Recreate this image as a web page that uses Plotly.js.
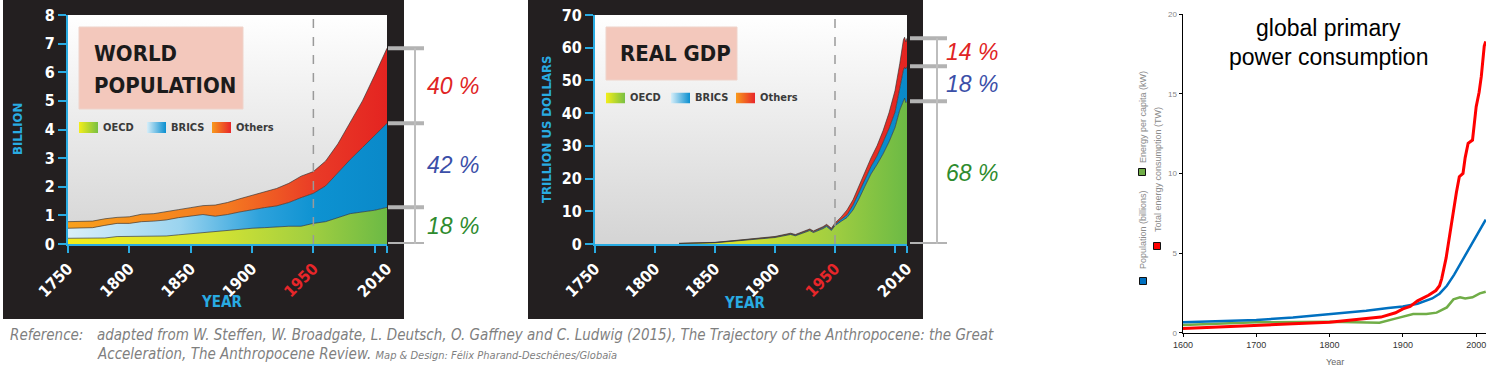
<!DOCTYPE html>
<html><head><meta charset="utf-8">
<script src="https://cdn.plot.ly/plotly-3.0.1.min.js"></script>
<style>html,body{margin:0;padding:0;background:#fff}#chart{width:1497px;height:371px}</style>
</head><body><div id="chart"></div>
<script>
// ---------- DATA ----------
// World population (billion), by region
const popYears  = [1750,1760,1770,1780,1790,1800,1810,1820,1830,1840,1850,1860,1870,1880,1890,1900,1910,1920,1930,1940,1950,1960,1970,1980,1990,2000,2010];
const popOECD   = [0.20,0.20,0.20,0.21,0.26,0.27,0.27,0.27,0.28,0.32,0.36,0.40,0.42,0.46,0.50,0.55,0.57,0.60,0.62,0.62,0.72,0.78,0.92,1.06,1.12,1.18,1.28];
const popBRICS  = [0.35,0.35,0.37,0.44,0.46,0.45,0.51,0.53,0.56,0.60,0.62,0.63,0.55,0.57,0.62,0.65,0.70,0.73,0.83,1.00,1.05,1.25,1.58,1.89,2.25,2.62,2.94];
const popOthers = [0.23,0.23,0.23,0.23,0.21,0.23,0.26,0.26,0.28,0.28,0.29,0.31,0.39,0.42,0.46,0.50,0.55,0.61,0.67,0.75,0.76,0.87,1.00,1.30,1.63,2.10,2.62];
const popShares = ['18 %','42 %','40 %'];   // OECD, BRICS, Others

// Real GDP (trillion US dollars), by region
const gdpYears  = [1820,1850,1870,1890,1900,1913,1917,1929,1932,1940,1943,1947,1950,1955,1960,1965,1970,1975,1980,1985,1990,1995,2000,2004,2007,2008,2009,2010];
const gdpOECD   = [0.14,0.38,1.00,1.62,1.98,2.90,2.50,4.10,3.50,4.70,5.35,4.15,5.60,6.90,8.10,10.40,13.80,17.70,21.40,24.30,27.50,31.20,35.60,41.00,44.00,44.60,43.20,43.60];
const gdpBRICS  = [0.04,0.08,0.12,0.16,0.18,0.22,0.22,0.28,0.28,0.34,0.35,0.35,0.40,0.60,0.80,1.50,2.00,2.20,2.30,2.60,3.50,4.10,4.70,7.10,9.20,9.40,10.30,10.70];
const gdpOthers = [0.02,0.04,0.08,0.12,0.14,0.18,0.18,0.22,0.22,0.26,0.30,0.30,0.40,0.70,1.50,1.60,2.10,2.40,2.60,3.10,3.60,4.80,6.60,7.10,9.20,9.20,8.30,8.60];
const gdpShares = ['68 %','18 %','14 %'];   // OECD, BRICS, Others

const regionNames = ['OECD','BRICS','Others'];
const histTickYears  = [1750,1800,1850,1900,1950,2000,2010];
const histTickLabels = ['1750','1800','1850','1900','1950','','2010'];

// Global primary power consumption panel
const popBnYears  = [1600,1650,1700,1750,1800,1850,1880,1900,1920,1940,1950,1960,1970,1980,1990,2000,2010,2013];
const popBn       = [0.65,0.72,0.80,0.95,1.15,1.38,1.55,1.65,1.82,2.15,2.45,2.95,3.65,4.45,5.25,6.10,6.85,7.10];
const energyYears = [1600,1650,1700,1750,1800,1840,1870,1890,1900,1910,1920,1935,1945,1950,1953,1959,1966,1973,1977,1982,1985,1989,1995,2000,2004,2007,2011,2013];
const energyTW    = [0.27,0.38,0.48,0.56,0.65,0.84,0.98,1.25,1.50,1.65,2.00,2.35,2.65,2.95,3.40,4.70,6.90,8.80,9.80,10.00,11.00,11.90,12.10,14.20,15.10,16.10,18.00,18.30];
const perCapYears = [1600,1700,1800,1868,1891,1914,1932,1946,1960,1969,1978,1985,1995,2005,2013];
const perCapKW    = [0.48,0.65,0.69,0.63,0.90,1.17,1.17,1.26,1.59,2.09,2.22,2.15,2.22,2.47,2.57];
const energyLegend = ['Population (billions)','Total energy consumption (TW)','Energy per capita (kW)'];

// ---------- STYLE ----------
const W = 1497, H = 371;
const px = v => v / W, py = v => 1 - v / H;
const NARROW = '"Liberation Sans Narrow", "Arial Narrow", "DejaVu Sans Condensed", sans-serif';
const ARIAL = '"Liberation Sans", Arial, sans-serif';
const BLUE = '#29abe2';
const OECD_SCALE   = [[0,'#f2ec1b'],[0.45,'#d6e432'],[0.75,'#a3cf40'],[1,'#6cba45']];
const BRICS_SCALE  = [[0,'#d9eff9'],[0.35,'#9bd4ef'],[0.6,'#2ea2dc'],[0.78,'#0d92d1'],[1,'#0a89c9']];
const OTHERS_SCALE = [[0,'#f8a01c'],[0.5,'#f47a20'],[0.78,'#e93a27'],[1,'#e42421']];
const SCALES = [OECD_SCALE, BRICS_SCALE, OTHERS_SCALE];
const SHARE_COLORS = ['#2e8b2e','#3b4fa8','#e02424'];

function svgURI(w, h, inner) {
  return 'data:image/svg+xml;charset=utf-8,' + encodeURIComponent(
    '<svg xmlns="http://www.w3.org/2000/svg" width="' + w + '" height="' + h + '" viewBox="0 0 ' + w + ' ' + h +
    '" preserveAspectRatio="none">' + inner + '</svg>');
}
function gradSVG(w, h, vertical, stops) {
  const g = '<defs><linearGradient id="g" x1="0" y1="0" x2="' + (vertical ? 0 : 1) + '" y2="' + (vertical ? 1 : 0) + '">' +
    stops.map(s => '<stop offset="' + s[0] + '" stop-color="' + s[1] + '"/>').join('') + '</linearGradient></defs>';
  return svgURI(w, h, g + '<rect width="' + w + '" height="' + h + '" fill="url(#g)"/>');
}
function img(src, x0, y0, x1, y1, layer) {
  return {source: src, xref: 'paper', yref: 'paper', x: px(x0), y: py(y0), sizex: (x1 - x0) / W, sizey: (y1 - y0) / H,
          xanchor: 'left', yanchor: 'top', sizing: 'stretch', layer: layer || 'below'};
}

// ---------- TRACES ----------
const traces = [];
function stacked(years, series, xa, ya, grp) {
  series.forEach((vals, i) => traces.push({
    x: years, y: vals, type: 'scatter', mode: 'lines', stackgroup: grp, name: regionNames[i],
    line: {color: 'rgba(45,45,45,0.8)', width: 0.8},
    fillgradient: {type: 'horizontal', colorscale: SCALES[i], start: 1750, stop: 2010},
    xaxis: xa, yaxis: ya, showlegend: false, hoverinfo: 'skip'
  }));
}
stacked(popYears, [popOECD, popBRICS, popOthers], 'x', 'y', 'pop');
stacked(gdpYears, [gdpOECD, gdpBRICS, gdpOthers], 'x2', 'y2', 'gdp');

traces.push({x: perCapYears, y: perCapKW, type: 'scatter', mode: 'lines', line: {color: '#70ad47', width: 2.5}, xaxis: 'x3', yaxis: 'y3', showlegend: false, hoverinfo: 'skip'});
traces.push({x: popBnYears, y: popBn, type: 'scatter', mode: 'lines', line: {color: '#0070c0', width: 2.5}, xaxis: 'x3', yaxis: 'y3', showlegend: false, hoverinfo: 'skip'});
traces.push({x: energyYears, y: energyTW, type: 'scatter', mode: 'lines', line: {color: '#ff0000', width: 3}, xaxis: 'x3', yaxis: 'y3', showlegend: false, hoverinfo: 'skip'});

// ---------- AXES ----------
const tickText = histTickLabels.map(t => t === '1950' ? '<span style="color:#e8262a">' + t + '</span>' : t);
function histX(x0, x1, anchor) {
  return {domain: [px(x0), px(x1)], range: [1750, 2010], anchor: anchor, showline: true, linecolor: BLUE, linewidth: 2,
    ticks: 'outside', tickcolor: BLUE, tickwidth: 2, ticklen: 7, tickmode: 'array', tickvals: histTickYears, ticktext: tickText,
    tickangle: -45, tickfont: {family: NARROW, size: 16, color: '#ffffff', weight: 700},
    showgrid: false, zeroline: false, fixedrange: true};
}
function histY(max, dt, anchor) {
  return {domain: [py(244), py(15)], range: [0, max], dtick: dt, tick0: 0, anchor: anchor, showline: true, linecolor: BLUE, linewidth: 2,
    ticks: 'outside', tickcolor: BLUE, tickwidth: 2, ticklen: 8, tickfont: {family: NARROW, size: 16, color: '#ffffff', weight: 700},
    showgrid: false, zeroline: false, fixedrange: true};
}

// ---------- SHAPES / ANNOTATIONS ----------
const shapes = [], annotations = [];
const last = a => a[a.length - 1];

function decorate(xa, ya, series, shares, hx0, hx1, vx, lblX) {
  shapes.push({type: 'line', xref: xa, yref: ya + ' domain', x0: 1950, x1: 1950, y0: 0, y1: 1,
               line: {color: '#9a9a9a', width: 1.5, dash: 'dash'}, layer: 'above'});
  const levels = [0];
  series.forEach(s => levels.push(levels[levels.length - 1] + last(s)));
  levels.forEach(v => shapes.push({type: 'line', xref: 'paper', yref: ya, x0: px(hx0), x1: px(hx1), y0: v, y1: v,
                                   line: {color: '#b3b3b3', width: 4}}));
  shapes.push({type: 'line', xref: 'paper', yref: ya, x0: px(vx), x1: px(vx), y0: 0, y1: last(levels),
               line: {color: '#bdbdbd', width: 2}});
  shares.forEach((t, i) => annotations.push({text: t, xref: 'paper', yref: ya, x: px(lblX), y: (levels[i] + levels[i + 1]) / 2,
    xanchor: 'center', yanchor: 'middle', showarrow: false,
    font: {family: ARIAL, size: 23, color: SHARE_COLORS[i], style: 'italic'}}));
}
decorate('x', 'y', [popOECD, popBRICS, popOthers], popShares, 388, 424, 415, 453);
decorate('x2', 'y2', [gdpOECD, gdpBRICS, gdpOthers], gdpShares, 910, 947, 937, 972);

// title boxes
shapes.push({type: 'rect', xref: 'paper', yref: 'paper', x0: px(79), x1: px(243), y0: py(109), y1: py(27),
             fillcolor: '#f3c8bc', line: {color: '#efd3ca', width: 1}});
shapes.push({type: 'rect', xref: 'paper', yref: 'paper', x0: px(606), x1: px(737), y0: py(80), y1: py(27),
             fillcolor: '#f3c8bc', line: {color: '#efd3ca', width: 1}});

function ann(text, x, y, opts) {
  annotations.push(Object.assign({text: text, xref: 'paper', yref: 'paper', x: px(x), y: py(y), showarrow: false,
    xanchor: 'left', yanchor: 'middle'}, opts || {}));
}
const titleFont = {family: NARROW, size: 22, color: '#1b1b1b', weight: 700};
ann('WORLD', 92, 54, {font: titleFont});
ann('POPULATION', 92, 85, {font: titleFont});
ann('REAL GDP', 618, 54, {font: titleFont});

// legends in the two history panels
const legFont = {family: NARROW, size: 11, color: '#3a3a3a', weight: 700};
const images = [];
const swatchStops = [
  [[0,'#f3ee1a'],[1,'#79c043']],
  [[0,'#d6eef9'],[1,'#0a8fd0']],
  [[0,'#f89a1c'],[1,'#e8262a']]
];
function legend(xs, y) {
  regionNames.forEach((n, i) => {
    images.push(img(gradSVG(20, 12, false, swatchStops[i]), xs[i], y - 5.5, xs[i] + 19, y + 5.5, 'above'));
    ann(n, xs[i] + 22, y, {font: legFont});
  });
}
legend([79, 147, 212], 127.5);
legend([606, 671, 736], 98);

// axis titles
const axFont = {family: NARROW, size: 13, color: BLUE, weight: 700};
ann('BILLION', 18, 129, {font: axFont, textangle: -90, xanchor: 'center'});
ann('YEAR', 221, 302, {font: Object.assign({}, axFont, {size: 15}), xanchor: 'center'});
ann('TRILLION US DOLLARS', 546, 130, {font: axFont, textangle: -90, xanchor: 'center'});
ann('YEAR', 744, 303, {font: Object.assign({}, axFont, {size: 15}), xanchor: 'center'});

// reference note
const refFont = {family: NARROW, size: 15, color: '#7f7f7f', style: 'italic'};
ann('Reference:', 8, 335, {font: refFont});
ann('adapted from W. Steffen, W. Broadgate, L. Deutsch, O. Gaffney and C. Ludwig (2015), The Trajectory of the Anthropocene: the Great', 95, 335, {font: refFont});
ann('Acceleration, The Anthropocene Review. <span style="font-size:11px">Map &amp; Design: Félix Pharand-Deschênes/Globaïa</span>', 95, 354, {font: refFont});

// energy panel title and legend
const t3 = {family: ARIAL, size: 23, color: '#000'};
ann('global primary', 1328, 28, {font: t3, xanchor: 'center'});
ann('power consumption', 1328, 57, {font: t3, xanchor: 'center'});
const legColors = ['#0070c0', '#ff0000', '#70ad47'];
const legSq = [[1143, 281], [1157, 246], [1142, 172]];
const legTxt = [[1143, 230], [1158, 170], [1143, 117]];
energyLegend.forEach((t, i) => {
  shapes.push({type: 'rect', xref: 'paper', yref: 'paper', x0: px(legSq[i][0] - 3.5), x1: px(legSq[i][0] + 3.5),
               y0: py(legSq[i][1] + 3.5), y1: py(legSq[i][1] - 3.5), fillcolor: legColors[i], line: {color: '#111', width: 1}});
  ann(t, legTxt[i][0], legTxt[i][1], {font: {family: ARIAL, size: 9, color: '#8a8a8a'}, textangle: -90, xanchor: 'center'});
});
ann('Year', 1335, 362, {font: {family: ARIAL, size: 9, color: '#666'}, xanchor: 'center'});

// backgrounds
images.unshift(
  img(svgURI(10, 10, '<rect width="10" height="10" fill="#231f20"/>'), 3, 0, 404, 319),
  img(svgURI(10, 10, '<rect width="10" height="10" fill="#231f20"/>'), 528, 0, 923, 319),
  img(gradSVG(10, 100, true, [[0,'#ffffff'],[1,'#d4d4d4']]), 68, 15, 387, 244),
  img(gradSVG(10, 100, true, [[0,'#ffffff'],[1,'#d4d4d4']]), 595, 15, 907, 244)
);

const layout = {
  width: W, height: H, autosize: false, margin: {l: 0, r: 0, t: 0, b: 0},
  paper_bgcolor: '#ffffff', plot_bgcolor: 'rgba(0,0,0,0)', showlegend: false,
  xaxis: histX(68, 387, 'y'), yaxis: histY(8, 1, 'x'),
  xaxis2: histX(595, 907, 'y2'), yaxis2: histY(70, 10, 'x2'),
  xaxis3: {domain: [px(1183), px(1486)], range: [1600, 2013.4], anchor: 'y3', dtick: 100, tick0: 1600,
           showline: true, linecolor: '#000', linewidth: 1, ticks: 'outside', ticklen: 3, tickcolor: '#000',
           tickfont: {family: ARIAL, size: 9, color: '#333'}, showgrid: false, zeroline: false, fixedrange: true},
  yaxis3: {domain: [py(332.7), py(14.3)], range: [0, 20], anchor: 'x3', dtick: 5, tick0: 0,
           showline: true, linecolor: '#000', linewidth: 1.5, ticks: 'outside', ticklen: 3, tickcolor: '#000',
           tickfont: {family: ARIAL, size: 8, color: '#888'}, showgrid: false, zeroline: false, fixedrange: true},
  shapes: shapes, annotations: annotations, images: images
};
Plotly.newPlot('chart', traces, layout, {displayModeBar: false, staticPlot: true});
</script></body></html>
